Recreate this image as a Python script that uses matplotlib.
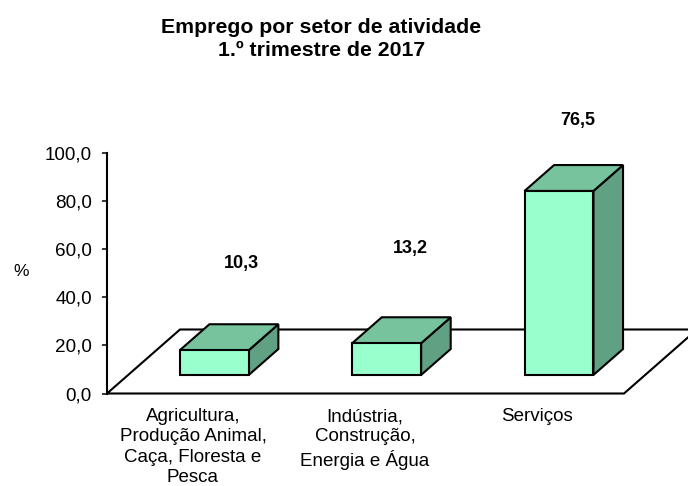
"""
Emprego por setor de atividade - barras com perspetiva obliqua.
"""
import matplotlib
matplotlib.use('Agg')
import matplotlib.pyplot as plt
from matplotlib.patches import Polygon

# Dados
categorias = ['Agricultura,\nProdução Animal,\nCaça, Floresta e\nPesca',
              'Indústria,\nConstrução,\nEnergia e Água',
              'Serviços']
valores = [10.3, 13.2, 76.5]
rotulos = ['10,3', '13,2', '76,5']
ticks_y = [0, 20, 40, 60, 80, 100]
ticks_y_txt = ['0,0', '20,0', '40,0', '60,0', '80,0', '100,0']

W, H = 688, 486
plt.rcParams['font.family'] = ['Liberation Sans', 'DejaVu Sans']

# Geometria em pixeis da imagem
X0, X1 = 107, 624
Y0, Y100 = 393.5, 153
DX, DY = 73, 64      # profundidade do chao

COR_FRENTE = '#99FFCC'
COR_TOPO = '#77C39D'
COR_LADO = '#5FA182'
LW = 1.5

fig = plt.figure(figsize=(W / 100, H / 100), dpi=100)
ax = fig.add_axes([X0 / W, 1 - Y0 / H, (X1 - X0) / W, (Y0 - Y100) / H])
ax.set_xlim(0, len(valores))
ax.set_ylim(0, 100)
ax.patch.set_visible(False)

# passa a profundidade para unidades dos eixos
dx_u = DX / ((X1 - X0) / len(valores))
dy_u = DY / ((Y0 - Y100) / 100)


def pt(x, y, d):
    """Projecao obliqua: x, valor e profundidade d (0 a 1)."""
    return (x + d * dx_u, y + d * dy_u)


def poli(pts, cor, z):
    ax.add_patch(Polygon(pts, closed=True, facecolor=cor, edgecolor='black',
                         linewidth=LW, joinstyle='miter', clip_on=False, zorder=z))


# chao
poli([pt(0, 0, 0), pt(len(valores), 0, 0), pt(len(valores), 0, 1), pt(0, 0, 1)], 'white', 1)

# barras
largura = 0.4
d_frente, d_tras = 0.29, 0.695
for i, v in enumerate(valores):
    a = i + 0.5 - largura / 2
    b = i + 0.5 + largura / 2
    poli([pt(b, 0, d_frente), pt(b, 0, d_tras), pt(b, v, d_tras), pt(b, v, d_frente)], COR_LADO, 3)
    poli([pt(a, v, d_frente), pt(b, v, d_frente), pt(b, v, d_tras), pt(a, v, d_tras)], COR_TOPO, 3)
    poli([pt(a, 0, d_frente), pt(b, 0, d_frente), pt(b, v, d_frente), pt(a, v, d_frente)], COR_FRENTE, 4)

# eixos
for s in ['top', 'right', 'bottom']:
    ax.spines[s].set_visible(False)
ax.spines['left'].set_linewidth(LW)
ax.spines['left'].set_zorder(6)
ax.set_yticks(ticks_y)
ax.set_yticklabels(ticks_y_txt, fontsize=13.6, color='black')
ax.tick_params(axis='y', length=3.6, width=1.1, pad=7.3)
ax.set_xticks([])

# textos em pixeis da imagem
def txt(x, y, s, va='center', **kw):
    fig.text(x / W, 1 - y / H, s, ha='center', va=va, **kw)


txt(321.5, 39, 'Emprego por setor de atividade\n1.º trimestre de 2017',
    fontsize=15.35, fontweight='bold', linespacing=1.3)
txt(21, 271, '%', fontsize=12.5)

pos_rotulos = [(241, 263), (410, 248), (578, 120)]
for (x, y), r in zip(pos_rotulos, rotulos):
    txt(x, y, r, fontsize=13, fontweight='bold')

pos_cat = [193, 365, 537]
for x, c in zip(pos_cat, categorias):
    txt(x, 408, c, va='top', fontsize=13.5, linespacing=1.26)

fig.savefig('out.png', dpi=100)
